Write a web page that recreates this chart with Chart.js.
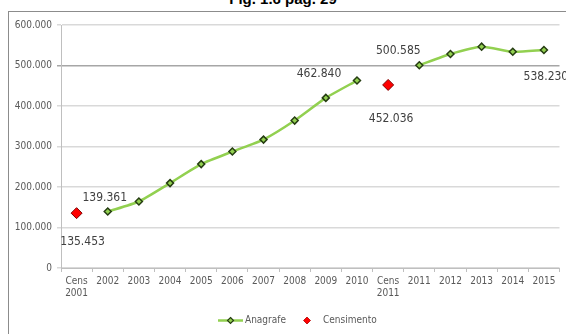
<!DOCTYPE html>
<html>
<head>
<meta charset="utf-8">
<script src="https://cdn.jsdelivr.net/npm/chart.js@4"></script>
<style>
  html, body { margin: 0; padding: 0; background: #fff; overflow: hidden; }
  #frame { position: absolute; left: 8px; top: 11px; width: 600px; height: 400px; border: 1px solid #8c8c8c; }
  #title { position: absolute; left: 0; top: -10px; width: 566px; text-align: center; line-height: 15px;
           font: bold 15px "Liberation Sans", Arial, sans-serif; color: #000; }
  #chart { position: absolute; left: 0; top: 0; }
</style>
</head>
<body>
<div id="frame"></div>
<div id="title">Fig. 1.6 pag. 29</div>
<canvas id="chart" width="566" height="334"></canvas>
<script>
const CATEGORIES = [
  ["Cens", "2001"], "2002", "2003", "2004", "2005", "2006", "2007", "2008", "2009", "2010",
  ["Cens", "2011"], "2011", "2012", "2013", "2014", "2015",
];
const ANAGRAFE = [
  null, 139361, 164200, 209600, 256500, 287500, 317000, 364000, 420000, 462840,
  null, 500585, 528500, 546500, 534000, 538230,
];
const CENSIMENTO = [
  135453, null, null, null, null, null, null, null, null, null,
  452036, null, null, null, null, null,
];
// indexes whose value is written next to the marker
const ANAGRAFE_LABELED = [1, 9, 11, 15];
const CENSIMENTO_LABELED = [0, 10];

const GREEN = "#92d050";
const RED = "#ff0000";
const NARROW = "'Liberation Sans Narrow', 'DejaVu Sans Condensed', sans-serif";

// label offsets from the marker, in px
const LABEL_OFFSET = {
  0: { 1: [-3, -14], 9: [-38, -7], 11: [-21, -14], 15: [2, 27] },
  1: { 0: [6, 29], 10: [3, 34] },
};

const fmt = (v) => String(v).replace(/\B(?=(\d{3})+(?!\d))/g, ".");

const valueLabels = {
  id: "valueLabels",
  afterDatasetsDraw(chart) {
    const ctx = chart.ctx;
    ctx.save();
    ctx.font = "12px " + NARROW;
    ctx.fillStyle = "#404040";
    ctx.textAlign = "center";
    ctx.textBaseline = "middle";
    [ANAGRAFE_LABELED, CENSIMENTO_LABELED].forEach((idxs, ds) => {
      const meta = chart.getDatasetMeta(ds);
      const values = chart.data.datasets[ds].data;
      idxs.forEach((i) => {
        const p = meta.data[i];
        const off = LABEL_OFFSET[ds][i];
        ctx.fillText(fmt(values[i]), p.x + off[0], p.y + off[1]);
      });
    });
    ctx.restore();
  },
};

const diamond = (ctx, x, y, r, fill, stroke, lw) => {
  ctx.beginPath();
  ctx.moveTo(x, y - r);
  ctx.lineTo(x + r, y);
  ctx.lineTo(x, y + r);
  ctx.lineTo(x - r, y);
  ctx.closePath();
  ctx.fillStyle = fill;
  ctx.fill();
  ctx.lineWidth = lw;
  ctx.strokeStyle = stroke;
  ctx.stroke();
};

// legend under the axis: line+marker for Anagrafe, marker only for Censimento
const bottomLegend = {
  id: "bottomLegend",
  afterDraw(chart) {
    const ctx = chart.ctx;
    const y = 320.5;
    ctx.save();
    ctx.strokeStyle = GREEN;
    ctx.lineWidth = 2.5;
    ctx.beginPath();
    ctx.moveTo(218, y);
    ctx.lineTo(243, y);
    ctx.stroke();
    diamond(ctx, 230.5, y, 3, GREEN, "#263d12", 1.2);
    diamond(ctx, 307, y, 3.5, RED, "#b00000", 0.8);
    ctx.font = "10px " + NARROW;
    ctx.fillStyle = "#595959";
    ctx.textBaseline = "middle";
    ctx.fillText("Anagrafe", 245, y);
    ctx.fillText("Censimento", 323, y);
    ctx.restore();
  },
};

new Chart(document.getElementById("chart"), {
  type: "line",
  data: {
    labels: CATEGORIES,
    datasets: [
      {
        label: "Anagrafe",
        data: ANAGRAFE,
        borderColor: GREEN,
        borderWidth: 2.5,
        tension: 0.2,
        spanGaps: false,
        pointStyle: "rectRot",
        pointRadius: 3.5,
        pointBackgroundColor: GREEN,
        pointBorderColor: "#263d12",
        pointBorderWidth: 1.5,
      },
      {
        label: "Censimento",
        data: CENSIMENTO,
        showLine: false,
        pointStyle: "rectRot",
        pointRadius: 5.5,
        pointBackgroundColor: RED,
        pointBorderColor: "#7f0000",
        pointBorderWidth: 1,
      },
    ],
  },
  options: {
    responsive: false,
    animation: false,
    devicePixelRatio: 1,
    layout: { padding: { top: 25, right: 2, left: 0, bottom: 0 } },
    plugins: {
      legend: { display: false },
      tooltip: { enabled: false },
    },
    scales: {
      x: {
        offset: true,
        grid: { offset: true, drawOnChartArea: false, tickLength: 4, color: "#bfbfbf" },
        border: { color: "#bfbfbf" },
        ticks: {
          padding: 4,
          maxRotation: 0,
          autoSkip: false,
          color: "#595959",
          font: { family: NARROW, size: 10, lineHeight: 1.15 },
        },
        afterFit: (scale) => { scale.height = 66; },
      },
      y: {
        min: 0,
        max: 600000,
        ticks: {
          stepSize: 100000,
          padding: 5,
          color: "#595959",
          font: { family: NARROW, size: 10 },
          callback: (v) => fmt(v),
        },
        grid: {
          tickLength: 4,
          lineWidth: 1.5,
          color: (c) => (c.tick && c.tick.value === 500000 ? "#a6a6a6" : "#d9d9d9"),
        },
        border: { color: "#bfbfbf" },
        afterFit: (scale) => { scale.width = 61; },
      },
    },
  },
  plugins: [valueLabels, bottomLegend],
});
</script>
</body>
</html>
